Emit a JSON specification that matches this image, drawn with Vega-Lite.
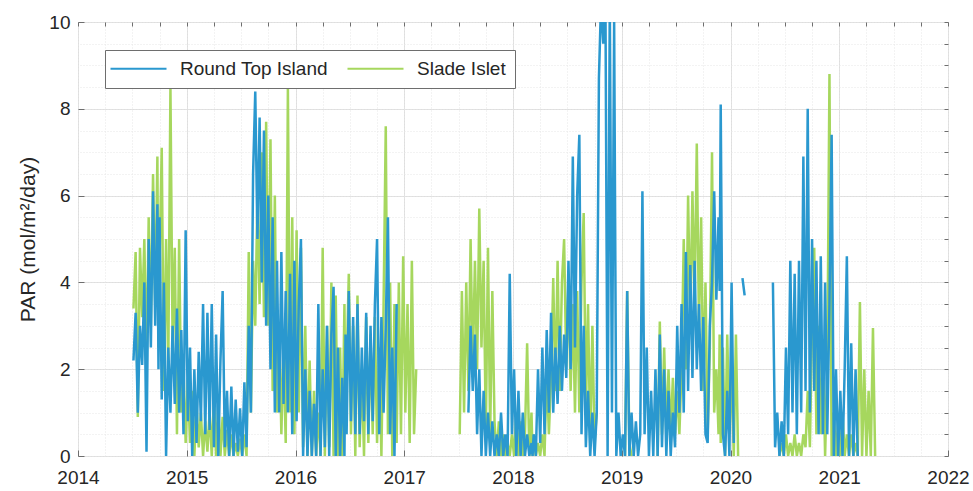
{
"$schema": "https://vega.github.io/schema/vega-lite/v6.json",
"width": 870, "height": 434,
"autosize": {"type": "none"},
"padding": {"left": 78, "top": 22, "right": 25, "bottom": 35},
"background": "white",
"config": {"view": {"stroke": "#6e6e6e", "strokeWidth": 1}, "font": "Liberation Sans"},
"data": {"values": [
{"t":2014.51,"R":2.2,"S":3.4},{"t":2014.53,"R":3.3,"S":4.7},{"t":2014.55,"R":1.0,"S":0.9},{"t":2014.57,"R":3.0,"S":4.8},{"t":2014.59,"R":2.1,"S":3.2},{"t":2014.61,"R":4.0,"S":5.0},{"t":2014.63,"R":0.1,"S":2.0},{"t":2014.65,"R":5.0,"S":5.5},{"t":2014.67,"R":2.5,"S":3.0},{"t":2014.69,"R":6.1,"S":6.5},{"t":2014.71,"R":3.0,"S":3.5},{"t":2014.73,"R":5.8,"S":6.9},{"t":2014.74,"R":2.0,"S":2.5},
{"t":2014.75,"R":5.5,"S":4.5},{"t":2014.77,"R":1.3,"S":7.1},{"t":2014.79,"R":4.0,"S":1.5},{"t":2014.81,"R":0.0,"S":5.0},{"t":2014.83,"R":2.5,"S":2.0},{"t":2014.85,"R":1.0,"S":8.5},{"t":2014.87,"R":3.0,"S":2.5},{"t":2014.89,"R":1.2,"S":4.8},{"t":2014.91,"R":3.4,"S":0.5},{"t":2014.93,"R":1.0,"S":5.0},{"t":2014.95,"R":2.9,"S":1.0},{"t":2014.97,"R":0.5,"S":2.0},{"t":2014.99,"R":5.2,"S":0.3},
{"t":2015.01,"R":0.8,"S":1.8},{"t":2015.03,"R":2.5,"S":0.3},{"t":2015.05,"R":0.0,"S":1.5},{"t":2015.07,"R":2.0,"S":0.0},{"t":2015.09,"R":0.3,"S":1.2},{"t":2015.11,"R":2.4,"S":0.2},{"t":2015.13,"R":0.8,"S":1.0},{"t":2015.15,"R":3.5,"S":0.0},{"t":2015.17,"R":0.5,"S":0.8},{"t":2015.19,"R":3.3,"S":0.1},{"t":2015.21,"R":0.6,"S":1.0},{"t":2015.23,"R":3.5,"S":0.0},{"t":2015.25,"R":0.2,"S":1.4},{"t":2015.27,"R":2.8,"S":0.0},{"t":2015.29,"R":0.0,"S":1.2},{"t":2015.31,"R":2.2,"S":0.0},{"t":2015.33,"R":3.8,"S":0.9},{"t":2015.35,"R":0.2,"S":0.0},{"t":2015.37,"R":1.5,"S":0.6},{"t":2015.39,"R":0.0,"S":0.0},{"t":2015.41,"R":1.6,"S":0.5},{"t":2015.43,"R":0.0,"S":0.0},{"t":2015.45,"R":1.3,"S":0.3},{"t":2015.47,"R":0.1,"S":0.0},{"t":2015.49,"R":1.1,"S":0.4},{"t":2015.51,"R":0.0,"S":0.0},{"t":2015.53,"R":1.7,"S":0.5},{"t":2015.55,"R":0.2,"S":0.0},{"t":2015.57,"R":3.0,"S":4.7},{"t":2015.59,"R":1.0,"S":1.0},{"t":2015.61,"R":6.5,"S":4.5},{"t":2015.63,"R":8.4,"S":3.0},{"t":2015.65,"R":5.0,"S":6.0},{"t":2015.67,"R":7.8,"S":3.5},{"t":2015.69,"R":4.0,"S":7.0},{"t":2015.71,"R":7.5,"S":3.2},{"t":2015.73,"R":3.0,"S":7.7},{"t":2015.75,"R":6.0,"S":3.0},{"t":2015.77,"R":2.0,"S":7.3},{"t":2015.79,"R":5.5,"S":1.5},{"t":2015.81,"R":1.0,"S":6.0},{"t":2015.83,"R":4.5,"S":1.0},{"t":2015.85,"R":1.0,"S":3.0},{"t":2015.87,"R":4.7,"S":0.5},{"t":2015.89,"R":1.2,"S":2.5},{"t":2015.91,"R":3.8,"S":0.3},{"t":2015.93,"R":1.0,"S":8.5},{"t":2015.95,"R":4.2,"S":1.0},{"t":2015.97,"R":0.5,"S":5.5},{"t":2015.99,"R":4.5,"S":0.5},
{"t":2016.01,"R":0.8,"S":5.2},{"t":2016.03,"R":3.5,"S":1.0},{"t":2016.05,"R":5.0,"S":4.8},{"t":2016.07,"R":0.0,"S":0.2},{"t":2016.09,"R":2.0,"S":3.0},{"t":2016.11,"R":0.0,"S":0.0},{"t":2016.13,"R":1.5,"S":2.2},{"t":2016.15,"R":0.0,"S":0.0},{"t":2016.17,"R":1.2,"S":1.5},{"t":2016.19,"R":0.0,"S":0.0},{"t":2016.21,"R":3.5,"S":1.0},{"t":2016.23,"R":0.0,"S":0.0},{"t":2016.25,"R":2.0,"S":4.8},{"t":2016.27,"R":0.2,"S":0.0},{"t":2016.29,"R":3.0,"S":3.0},{"t":2016.31,"R":0.0,"S":0.2},{"t":2016.33,"R":2.8,"S":4.0},{"t":2016.35,"R":3.9,"S":0.0},{"t":2016.37,"R":0.0,"S":3.7},{"t":2016.39,"R":2.5,"S":0.0},{"t":2016.41,"R":0.0,"S":2.5},{"t":2016.43,"R":1.8,"S":0.0},{"t":2016.45,"R":0.0,"S":3.5},{"t":2016.46,"R":2.8,"S":0.5},
{"t":2016.47,"R":0.5,"S":2.0},{"t":2016.49,"R":3.8,"S":4.2},{"t":2016.51,"R":0.8,"S":0.5},{"t":2016.53,"R":3.2,"S":3.0},{"t":2016.55,"R":0.5,"S":0.0},{"t":2016.57,"R":3.5,"S":3.7},{"t":2016.59,"R":0.5,"S":0.2},{"t":2016.61,"R":2.5,"S":2.0},{"t":2016.63,"R":0.8,"S":0.0},{"t":2016.65,"R":3.3,"S":3.2},{"t":2016.67,"R":0.5,"S":0.3},{"t":2016.69,"R":3.0,"S":2.8},{"t":2016.71,"R":0.8,"S":0.5},{"t":2016.73,"R":3.5,"S":3.2},{"t":2016.75,"R":5.0,"S":0.3},{"t":2016.77,"R":0.5,"S":2.5},{"t":2016.79,"R":3.2,"S":0.0},{"t":2016.81,"R":1.0,"S":3.5},{"t":2016.83,"R":3.0,"S":7.6},{"t":2016.85,"R":5.5,"S":0.5},{"t":2016.87,"R":0.5,"S":4.0},{"t":2016.89,"R":2.5,"S":0.0},{"t":2016.91,"R":0.0,"S":3.5},{"t":2016.93,"R":3.5,"S":0.3},{"t":2016.95,"R":null,"S":4.0},{"t":2016.97,"R":null,"S":0.5},{"t":2016.99,"R":null,"S":4.6},
{"t":2017.01,"R":null,"S":1.0},{"t":2017.03,"R":null,"S":3.5},{"t":2017.05,"R":null,"S":0.3},{"t":2017.07,"R":null,"S":4.5},{"t":2017.09,"R":null,"S":0.5},{"t":2017.11,"R":null,"S":2.0},{"t":2017.13,"R":null,"S":null},{"t":2017.51,"R":null,"S":0.5},{"t":2017.53,"R":null,"S":3.8},{"t":2017.55,"R":null,"S":1.0},{"t":2017.57,"R":null,"S":4.0},{"t":2017.59,"R":1.0,"S":1.5},{"t":2017.61,"R":3.0,"S":5.0},{"t":2017.63,"R":1.5,"S":2.0},{"t":2017.65,"R":2.8,"S":4.5},{"t":2017.67,"R":0.5,"S":2.0},{"t":2017.69,"R":2.0,"S":5.7},{"t":2017.71,"R":0.0,"S":2.5},{"t":2017.73,"R":1.5,"S":4.5},{"t":2017.75,"R":0.0,"S":0.5},{"t":2017.77,"R":1.0,"S":4.8},{"t":2017.79,"R":0.0,"S":0.5},{"t":2017.81,"R":0.8,"S":3.8},{"t":2017.83,"R":0.0,"S":0.8},{"t":2017.85,"R":0.5,"S":0.0},{"t":2017.87,"R":0.0,"S":0.8},{"t":2017.89,"R":1.0,"S":0.0},{"t":2017.91,"R":0.0,"S":0.5},{"t":2017.93,"R":0.5,"S":0.0},{"t":2017.95,"R":0.0,"S":0.3},{"t":2017.97,"R":4.2,"S":0.0},{"t":2017.99,"R":0.5,"S":0.5},
{"t":2018.01,"R":2.0,"S":0.0},{"t":2018.03,"R":0.0,"S":1.0},{"t":2018.05,"R":1.5,"S":0.0},{"t":2018.07,"R":0.0,"S":0.8},{"t":2018.09,"R":1.0,"S":0.0},{"t":2018.11,"R":0.0,"S":0.5},{"t":2018.13,"R":0.5,"S":2.6},{"t":2018.15,"R":0.0,"S":0.0},{"t":2018.17,"R":0.3,"S":1.0},{"t":2018.18,"R":0.0,"S":0.0},
{"t":2018.19,"R":0.5,"S":0.5},{"t":2018.21,"R":0.0,"S":0.0},{"t":2018.23,"R":2.0,"S":0.3},{"t":2018.25,"R":0.3,"S":0.0},{"t":2018.27,"R":2.5,"S":0.5},{"t":2018.29,"R":0.5,"S":0.0},{"t":2018.31,"R":2.9,"S":2.0},{"t":2018.33,"R":1.0,"S":0.5},{"t":2018.35,"R":3.3,"S":1.8},{"t":2018.37,"R":1.0,"S":4.1},{"t":2018.39,"R":2.5,"S":1.5},{"t":2018.41,"R":1.2,"S":4.5},{"t":2018.43,"R":3.0,"S":1.5},{"t":2018.45,"R":1.5,"S":4.0},{"t":2018.47,"R":2.8,"S":5.0},{"t":2018.49,"R":1.8,"S":2.0},{"t":2018.51,"R":4.5,"S":4.0},{"t":2018.53,"R":2.0,"S":1.5},{"t":2018.55,"R":6.9,"S":3.5},{"t":2018.57,"R":2.5,"S":1.0},{"t":2018.59,"R":6.0,"S":3.8},{"t":2018.61,"R":7.4,"S":1.0},{"t":2018.63,"R":0.5,"S":4.0},{"t":2018.65,"R":3.0,"S":5.6},{"t":2018.67,"R":0.2,"S":1.0},{"t":2018.69,"R":1.5,"S":3.5},{"t":2018.71,"R":0.0,"S":0.3},{"t":2018.73,"R":1.0,"S":3.0},{"t":2018.75,"R":0.0,"S":0.3},{"t":2018.77,"R":1.0,"S":1.0},{"t":2018.79,"R":8.7,"S":null},{"t":2018.81,"R":10.5,"S":null},{"t":2018.83,"R":9.5,"S":null},{"t":2018.85,"R":10.5,"S":null},{"t":2018.87,"R":0.0,"S":null},{"t":2018.89,"R":10.5,"S":null},{"t":2018.91,"R":1.0,"S":null},{"t":2018.93,"R":10.0,"S":null},{"t":2018.95,"R":0.0,"S":null},{"t":2018.97,"R":1.0,"S":null},{"t":2018.99,"R":0.0,"S":null},
{"t":2019.01,"R":0.5,"S":null},{"t":2019.03,"R":0.0,"S":0.0},{"t":2019.05,"R":3.8,"S":3.8},{"t":2019.07,"R":0.0,"S":0.3},{"t":2019.09,"R":1.0,"S":0.0},{"t":2019.11,"R":0.0,"S":null},{"t":2019.13,"R":0.8,"S":null},{"t":2019.15,"R":0.0,"S":null},{"t":2019.17,"R":0.5,"S":null},{"t":2019.19,"R":6.1,"S":null},{"t":2019.21,"R":0.5,"S":null},{"t":2019.23,"R":2.5,"S":null},{"t":2019.25,"R":0.0,"S":null},{"t":2019.27,"R":1.5,"S":null},{"t":2019.29,"R":0.0,"S":null},{"t":2019.31,"R":2.0,"S":null},{"t":2019.33,"R":0.0,"S":0.0},{"t":2019.35,"R":2.8,"S":3.1},{"t":2019.37,"R":0.2,"S":0.5},{"t":2019.39,"R":2.0,"S":2.5},{"t":2019.41,"R":0.0,"S":0.5},{"t":2019.43,"R":1.5,"S":2.0},{"t":2019.45,"R":0.0,"S":0.5},{"t":2019.47,"R":1.0,"S":1.8},{"t":2019.49,"R":0.2,"S":0.5},{"t":2019.51,"R":3.0,"S":1.5},{"t":2019.53,"R":1.0,"S":0.5},{"t":2019.55,"R":3.5,"S":2.0},{"t":2019.57,"R":1.0,"S":5.0},{"t":2019.59,"R":4.7,"S":2.0},{"t":2019.61,"R":1.5,"S":6.0},{"t":2019.63,"R":4.4,"S":3.0},{"t":2019.65,"R":1.8,"S":6.1},{"t":2019.67,"R":4.5,"S":3.5},{"t":2019.69,"R":2.0,"S":7.2},{"t":2019.71,"R":3.5,"S":3.0},{"t":2019.73,"R":1.5,"S":5.5},{"t":2019.75,"R":3.2,"S":1.5},{"t":2019.77,"R":0.5,"S":4.0},{"t":2019.79,"R":0.3,"S":0.5},{"t":2019.81,"R":3.0,"S":2.5},{"t":2019.83,"R":4.0,"S":7.0},{"t":2019.85,"R":6.1,"S":1.0},{"t":2019.87,"R":3.6,"S":2.0},{"t":2019.89,"R":5.5,"S":0.5},{"t":2019.90,"R":3.8,"S":2.8},
{"t":2019.91,"R":8.1,"S":0.3},{"t":2019.93,"R":0.5,"S":2.5},{"t":2019.95,"R":0.0,"S":0.0},{"t":2019.97,"R":1.5,"S":2.8},{"t":2019.99,"R":0.0,"S":0.5},
{"t":2020.01,"R":4.0,"S":2.0},{"t":2020.03,"R":0.3,"S":0.0},{"t":2020.05,"R":null,"S":2.8},{"t":2020.07,"R":null,"S":0.0},{"t":2020.09,"R":null,"S":null},{"t":2020.11,"R":4.1,"S":null},{"t":2020.13,"R":3.7,"S":null},{"t":2020.15,"R":null,"S":null},{"t":2020.39,"R":4.0,"S":null},{"t":2020.41,"R":0.2,"S":null},{"t":2020.43,"R":1.0,"S":null},{"t":2020.45,"R":0.0,"S":0.0},{"t":2020.47,"R":0.8,"S":0.3},{"t":2020.49,"R":0.0,"S":0.0},{"t":2020.51,"R":2.5,"S":0.5},{"t":2020.53,"R":0.5,"S":0.0},{"t":2020.55,"R":4.5,"S":0.3},{"t":2020.57,"R":1.0,"S":0.0},{"t":2020.59,"R":4.2,"S":0.5},{"t":2020.61,"R":0.5,"S":0.0},{"t":2020.63,"R":4.5,"S":0.3},{"t":2020.65,"R":1.0,"S":0.0},{"t":2020.67,"R":6.9,"S":0.5},{"t":2020.69,"R":1.5,"S":0.2},{"t":2020.71,"R":8.0,"S":1.5},{"t":2020.73,"R":1.0,"S":0.2},{"t":2020.75,"R":5.0,"S":3.0},{"t":2020.77,"R":1.5,"S":4.8},{"t":2020.79,"R":4.5,"S":0.5},{"t":2020.81,"R":0.5,"S":3.0},{"t":2020.83,"R":4.6,"S":0.5},{"t":2020.85,"R":0.5,"S":2.5},{"t":2020.87,"R":4.0,"S":0.0},{"t":2020.89,"R":0.5,"S":2.0},{"t":2020.91,"R":3.5,"S":8.8},{"t":2020.93,"R":7.4,"S":0.0},{"t":2020.95,"R":0.0,"S":1.0},{"t":2020.97,"R":2.0,"S":0.0},{"t":2020.99,"R":0.0,"S":0.8},
{"t":2021.01,"R":1.5,"S":0.0},{"t":2021.03,"R":0.0,"S":1.0},{"t":2021.05,"R":2.0,"S":0.0},{"t":2021.07,"R":4.6,"S":0.5},{"t":2021.09,"R":0.0,"S":0.0},{"t":2021.11,"R":2.6,"S":0.5},{"t":2021.13,"R":0.0,"S":0.0},{"t":2021.15,"R":2.0,"S":0.3},{"t":2021.17,"R":0.0,"S":0.0},{"t":2021.19,"R":null,"S":3.55},{"t":2021.21,"R":null,"S":0.0},{"t":2021.23,"R":null,"S":2.0},{"t":2021.25,"R":null,"S":0.0},{"t":2021.27,"R":null,"S":1.5},{"t":2021.29,"R":null,"S":0.0},{"t":2021.31,"R":null,"S":2.95},{"t":2021.33,"R":null,"S":0.0}
]},
"layer": [
{"mark": {"type": "line", "clip": true, "strokeWidth": 2.5},
 "encoding": {
  "x": {"field": "t", "type": "quantitative", "scale": {"domain": [2014, 2022], "nice": false, "zero": false},
        "axis": {"orient": "bottom", "values": [2014,2015,2016,2017,2018,2019,2020,2021,2022], "format": "d", "labelFlush": false, "title": null, "domain": false, "grid": true, "gridColor": "#dedede", "gridWidth": 1, "ticks": true, "tickSize": -6, "tickColor": "#6e6e6e", "labelPadding": 18, "labelFontSize": 19, "labelColor": "#262626", "labelFont": "Liberation Sans"}},
  "y": {"field": "S", "type": "quantitative", "scale": {"domain": [0, 10], "nice": false},
        "axis": {"orient": "left", "values": [0,2,4,6,8,10], "title": "PAR (mol/m\u00b2/day)", "titleFontSize": 21, "titleFontWeight": "normal", "titleColor": "#262626", "titleFont": "Liberation Sans", "titlePadding": 10, "domain": false, "grid": true, "gridColor": "#dedede", "ticks": true, "tickSize": -6, "tickColor": "#6e6e6e", "labelPadding": 14, "labelFontSize": 19, "labelColor": "#262626", "labelFont": "Liberation Sans"}},
  "color": {"datum": "Slade Islet", "type": "nominal",
        "scale": {"domain": ["Round Top Island", "Slade Islet"], "range": ["#2a98cf", "#a6d75e"]},
        "legend": {"orient": "none", "legendX": 27, "legendY": 28, "direction": "horizontal", "title": null, "symbolType": "M-4,0H4", "symbolSize": 196, "symbolOffset": 15, "symbolStrokeWidth": 2, "labelFontSize": 19, "labelColor": "#262626", "labelFont": "Liberation Sans", "labelOffset": 32, "columnPadding": 15, "padding": 9, "strokeColor": "#6e6e6e", "fillColor": "white", "cornerRadius": 0}}
 }},
{"mark": {"type": "line", "clip": true, "strokeWidth": 2.5},
 "encoding": {
  "x": {"field": "t", "type": "quantitative",
        "axis": {"orient": "top", "values": [2014,2014.25,2014.5,2014.75,2015,2015.25,2015.5,2015.75,2016,2016.25,2016.5,2016.75,2017,2017.25,2017.5,2017.75,2018,2018.25,2018.5,2018.75,2019,2019.25,2019.5,2019.75,2020,2020.25,2020.5,2020.75,2021,2021.25,2021.5,2021.75,2022], "labels": false, "title": null, "domain": false, "grid": true, "gridColor": "#e6e6e6", "gridDash": [1, 2], "ticks": true, "tickSize": -4, "tickColor": "#6e6e6e"}},
  "y": {"field": "R", "type": "quantitative",
        "axis": {"orient": "right", "values": [0,0.5,1,1.5,2,2.5,3,3.5,4,4.5,5,5.5,6,6.5,7,7.5,8,8.5,9,9.5,10], "labels": false, "title": null, "domain": false, "grid": true, "gridColor": "#e6e6e6", "gridDash": [1, 2], "ticks": true, "tickSize": -4, "tickColor": "#6e6e6e"}},
  "color": {"datum": "Round Top Island", "type": "nominal"}
 }}
],
"resolve": {"axis": {"x": "independent", "y": "independent"}}
}
